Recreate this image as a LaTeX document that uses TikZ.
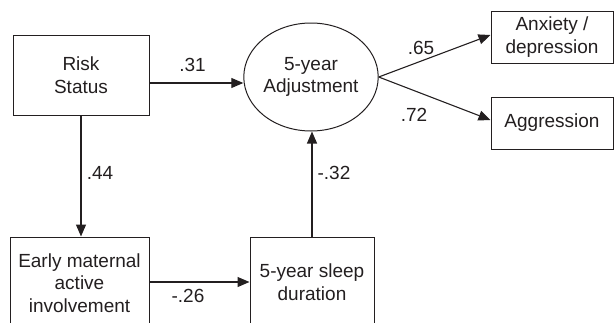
\documentclass[tikz,border=0pt]{standalone}
\usepackage{fontspec}
\setmainfont{Liberation Sans}
\usetikzlibrary{shapes.geometric,arrows.meta,calc}
\definecolor{ink}{RGB}{35,31,32}
\begin{document}
\begin{tikzpicture}[x=1pt,y=-1pt,
  every node/.style={text=ink,font=\fontsize{19}{22.5}\selectfont},
  box/.style={draw=ink,line width=1pt,rectangle,inner sep=0pt,align=center},
  oval/.style={draw=ink,line width=1pt,ellipse,inner sep=0pt,align=center},
  conn/.style={draw=ink,line width=1.1pt,-{Triangle[length=12pt,width=10pt]}},
  lab/.style={inner sep=0pt}]
\useasboundingbox (0,0) rectangle (614,322);
\clip (0,0) rectangle (614,322);
\node[box,minimum width=136pt,minimum height=80pt] (risk) at (81,75) {Risk\\Status};
\node[oval,minimum width=114pt,minimum height=108pt] (adj) at (311,77) {5-year\\Adjustment};
\node[box,minimum width=122pt,minimum height=52pt] (anx) at (552,37) {Anxiety /\\depression};
\node[box,minimum width=122pt,minimum height=52pt] (agg) at (552,123) {Aggression};
\node[box,minimum width=139pt,minimum height=92pt] (early) at (79.5,283) {Early maternal\\active\\involvement};
\node[box,minimum width=124pt,minimum height=90pt] (sleep) at (312,282) {5-year sleep\\duration};
\draw[conn] ($(risk.east)+(0,8)$) -- ($(adj.west)+(0,6)$);
\draw[conn] (adj.east) -- ($(anx.west)+(0,-2)$);
\draw[conn] (adj.east) -- ($(agg.west)+(0,-3)$);
\draw[conn] (risk.south) -- (risk.south |- early.north);
\draw[conn] (early.east |- sleep.west) -- (sleep.west);
\draw[conn] (sleep.north) -- (sleep.north |- adj.south);
\node[lab] (l31) at (192.5,64.5) {.31};
\node[lab] (l44) at (100,173) {.44};
\node[lab] (l32) at (334,173) {-.32};
\node[lab] (l26) at (188,296) {-.26};
\node[lab] (l65) at (421,48) {.65};
\node[lab] (l72) at (414,115) {.72};
\end{tikzpicture}
\end{document}
